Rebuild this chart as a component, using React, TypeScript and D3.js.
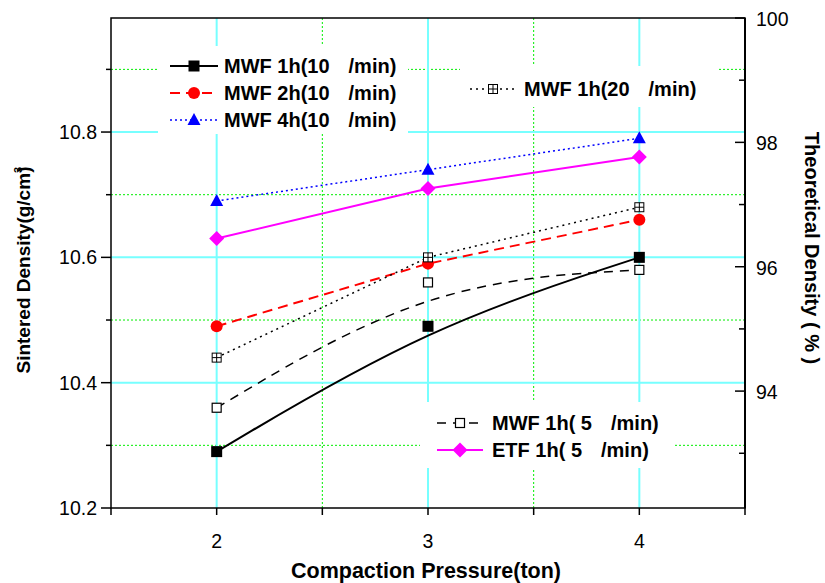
import React from "react";
import * as d3 from "d3";

const pressures = [2, 3, 4];
const mwf1h10 = [10.29, 10.49, 10.6];
const mwf2h10 = [10.49, 10.59, 10.66];
const mwf4h10 = [10.69, 10.74, 10.79];
const mwf1h20 = [10.44, 10.6, 10.68];
const mwf1h5 = [10.36, 10.56, 10.58];
const etf1h5 = [10.63, 10.71, 10.76];

const xMajorTicks = [2, 3, 4];
const xMinorTicks = [1.5, 2.5, 3.5, 4.5];
const yMajorTicks = [10.2, 10.4, 10.6, 10.8];
const yMinorTicks = [10.3, 10.5, 10.7, 10.9];
const rMajorTicks = [94, 96, 98, 100];
const rMinorTicks = [93, 95, 97, 99];

const W = 825;
const H = 583;
const L = 111, R = 745, T = 18, B = 508;
const FONT = "'Liberation Sans', Arial, Helvetica, sans-serif";

const x = d3.scaleLinear().domain([1.5, 4.5]).range([L, R]);
const y = d3.scaleLinear().domain([10.2, 10.982]).range([B, T]);
const yR = d3.scaleLinear().domain([92.12, 100]).range([B, T]);

type MType = "fsquare" | "circle" | "triangle" | "boxplus" | "osquare" | "diamond";

function Marker({ type, cx, cy, color }: { type: MType; cx: number; cy: number; color: string }) {
  switch (type) {
    case "fsquare":
      return <rect x={cx - 5.5} y={cy - 5.5} width={11} height={11} fill={color} />;
    case "circle":
      return <circle cx={cx} cy={cy} r={6} fill={color} />;
    case "triangle":
      return <path d={`M${cx},${cy - 7}L${cx + 6.5},${cy + 5}L${cx - 6.5},${cy + 5}Z`} fill={color} />;
    case "boxplus":
      return (
        <g stroke="#000" strokeWidth={1} fill="#fff">
          <rect x={cx - 4.5} y={cy - 4.5} width={9} height={9} />
          <line x1={cx - 4.5} x2={cx + 4.5} y1={cy} y2={cy} />
          <line x1={cx} x2={cx} y1={cy - 4.5} y2={cy + 4.5} />
        </g>
      );
    case "osquare":
      return <rect x={cx - 4.5} y={cy - 4.5} width={9} height={9} fill="#fff" stroke="#000" strokeWidth={1.2} />;
    case "diamond":
      return <path d={`M${cx},${cy - 7.5}L${cx + 7.5},${cy}L${cx},${cy + 7.5}L${cx - 7.5},${cy}Z`} fill={color} />;
  }
  return null;
}

interface Series {
  name: string;
  rate: string;
  values: number[];
  color: string;
  width: number;
  dash?: string;
  marker: MType;
  curve: d3.CurveFactory;
}

const series: Series[] = [
  { name: "MWF 1h(10", rate: "/min)", values: mwf1h10, color: "#000", width: 2, marker: "fsquare", curve: d3.curveBasis },
  { name: "MWF 2h(10", rate: "/min)", values: mwf2h10, color: "#ff0000", width: 2, dash: "10,6", marker: "circle", curve: d3.curveLinear },
  { name: "MWF 4h(10", rate: "/min)", values: mwf4h10, color: "#0000ff", width: 1.5, dash: "2,3", marker: "triangle", curve: d3.curveLinear },
  { name: "MWF 1h(20", rate: "/min)", values: mwf1h20, color: "#000", width: 1.5, dash: "2,4", marker: "boxplus", curve: d3.curveLinear },
  { name: "MWF 1h( 5", rate: "/min)", values: mwf1h5, color: "#000", width: 1.5, dash: "9,7", marker: "osquare", curve: d3.curveBasis },
  { name: "ETF 1h( 5", rate: "/min)", values: etf1h5, color: "#ff00ff", width: 2, marker: "diamond", curve: d3.curveLinear },
];

function LegendRow({ s, lx, ly, lineW, tx }: { s: Series; lx: number; ly: number; lineW: number; tx: number }) {
  return (
    <g>
      <line x1={lx} x2={lx + lineW} y1={ly} y2={ly} stroke={s.color} strokeWidth={s.width} strokeDasharray={s.dash} />
      <Marker type={s.marker} cx={lx + lineW / 2} cy={ly} color={s.color} />
      <text x={tx} y={ly + 7} fontFamily={FONT} fontWeight="bold" fontSize={20} fill="#000">
        {s.name}
        <tspan dx={19}>{s.rate}</tspan>
      </text>
    </g>
  );
}

export default function App() {
  const pts = (vals: number[]) => pressures.map((p, i) => [x(p), y(vals[i])] as [number, number]);
  return (
    <svg width={W} height={H} style={{ position: "absolute", left: 0, top: 0, background: "#fff" }}>
      <rect x={0} y={0} width={W} height={H} fill="#fff" />
      {/* grid */}
      {yMinorTicks.map((t) => (
        <line key={"gym" + t} x1={L} x2={R} y1={y(t)} y2={y(t)} stroke="#00ee00" strokeWidth={1} strokeDasharray="2,2" />
      ))}
      {xMinorTicks.filter((t) => t > 1.5 && t < 4.5).map((t) => (
        <line key={"gxm" + t} x1={x(t)} x2={x(t)} y1={T} y2={B} stroke="#00ee00" strokeWidth={1} strokeDasharray="2,2" />
      ))}
      {yMajorTicks.filter((t) => t > 10.2).map((t) => (
        <line key={"gy" + t} x1={L} x2={R} y1={y(t)} y2={y(t)} stroke="#77ffff" strokeWidth={2} />
      ))}
      {xMajorTicks.map((t) => (
        <line key={"gx" + t} x1={x(t)} x2={x(t)} y1={T} y2={B} stroke="#77ffff" strokeWidth={2} />
      ))}
      {/* legend backgrounds */}
      <rect x={158} y={46} width={250} height={88} fill="#fff" />
      <rect x={460} y={66} width={258} height={41} fill="#fff" />
      <rect x={420} y={402} width={255} height={66} fill="#fff" />
      {/* data */}
      {series.map((s, i) => {
        const line = d3.line().curve(s.curve)(pts(s.values)) || "";
        return (
          <path key={"l" + i} d={line} fill="none" stroke={s.color} strokeWidth={s.width} strokeDasharray={s.dash} />
        );
      })}
      {series.map((s, i) => (
        <g key={"m" + i}>
          {pts(s.values).map(([cx, cy], j) => (
            <Marker key={j} type={s.marker} cx={cx} cy={cy} color={s.color} />
          ))}
        </g>
      ))}
      {/* frame */}
      <rect x={L} y={T} width={R - L} height={B - T} fill="none" stroke="#000" strokeWidth={1.5} />
      <line x1={R} x2={R} y1={T} y2={B} stroke="#000" strokeWidth={2} />
      {/* left axis */}
      {yMajorTicks.map((t) => (
        <g key={"ly" + t}>
          <line x1={L - 10} x2={L} y1={y(t)} y2={y(t)} stroke="#000" strokeWidth={1.5} />
          <text x={L - 14} y={y(t) + 7} textAnchor="end" fontFamily={FONT} fontSize={19.5} fill="#000">
            {d3.format(".1f")(t)}
          </text>
        </g>
      ))}
      {yMinorTicks.map((t) => (
        <line key={"lym" + t} x1={L - 5} x2={L} y1={y(t)} y2={y(t)} stroke="#000" strokeWidth={1.5} />
      ))}
      {/* right axis */}
      {rMajorTicks.map((t) => (
        <g key={"ry" + t}>
          <line x1={R - 10} x2={R} y1={yR(t)} y2={yR(t)} stroke="#000" strokeWidth={1.5} />
          <text x={R + 11} y={yR(t) + 8} textAnchor="start" fontFamily={FONT} fontSize={19.5} fill="#000">
            {t}
          </text>
        </g>
      ))}
      {rMinorTicks.map((t) => (
        <line key={"rym" + t} x1={R - 6} x2={R} y1={yR(t)} y2={yR(t)} stroke="#000" strokeWidth={1.5} />
      ))}
      {/* bottom axis */}
      {xMajorTicks.map((t) => (
        <g key={"bx" + t}>
          <line x1={x(t)} x2={x(t)} y1={B} y2={B + 7} stroke="#000" strokeWidth={1.5} />
          <text x={x(t)} y={B + 40} textAnchor="middle" fontFamily={FONT} fontSize={19.5} fill="#000">
            {t}
          </text>
        </g>
      ))}
      {xMinorTicks.map((t) => (
        <line key={"bxm" + t} x1={x(t)} x2={x(t)} y1={B} y2={B + 7} stroke="#000" strokeWidth={1.5} />
      ))}
      {/* axis titles */}
      <text x={(L + R) / 2 - 2} y={578} textAnchor="middle" fontFamily={FONT} fontWeight="bold" fontSize={21.5} fill="#000">
        Compaction Pressure(ton)
      </text>
      <text transform="translate(30,270) rotate(-90)" textAnchor="middle" fontFamily={FONT} fontWeight="bold" fontSize={19} fill="#000">
        Sintered Density(g/cm<tspan dy={-8} fontSize={11}>3</tspan><tspan dy={8} dx={-6}>)</tspan>
      </text>
      <text transform="translate(805,248) rotate(90)" textAnchor="middle" fontFamily={FONT} fontWeight="bold" fontSize={20} fill="#000">
        Theoretical Density ( % )
      </text>
      {/* legends */}
      <LegendRow s={series[0]} lx={170} ly={66} lineW={48} tx={224} />
      <LegendRow s={series[1]} lx={170} ly={93} lineW={48} tx={224} />
      <LegendRow s={series[2]} lx={170} ly={120} lineW={48} tx={224} />
      <LegendRow s={series[3]} lx={470} ly={89} lineW={46} tx={524} />
      <LegendRow s={series[4]} lx={437} ly={423} lineW={46} tx={492} />
      <LegendRow s={series[5]} lx={437} ly={450} lineW={46} tx={492} />
    </svg>
  );
}
